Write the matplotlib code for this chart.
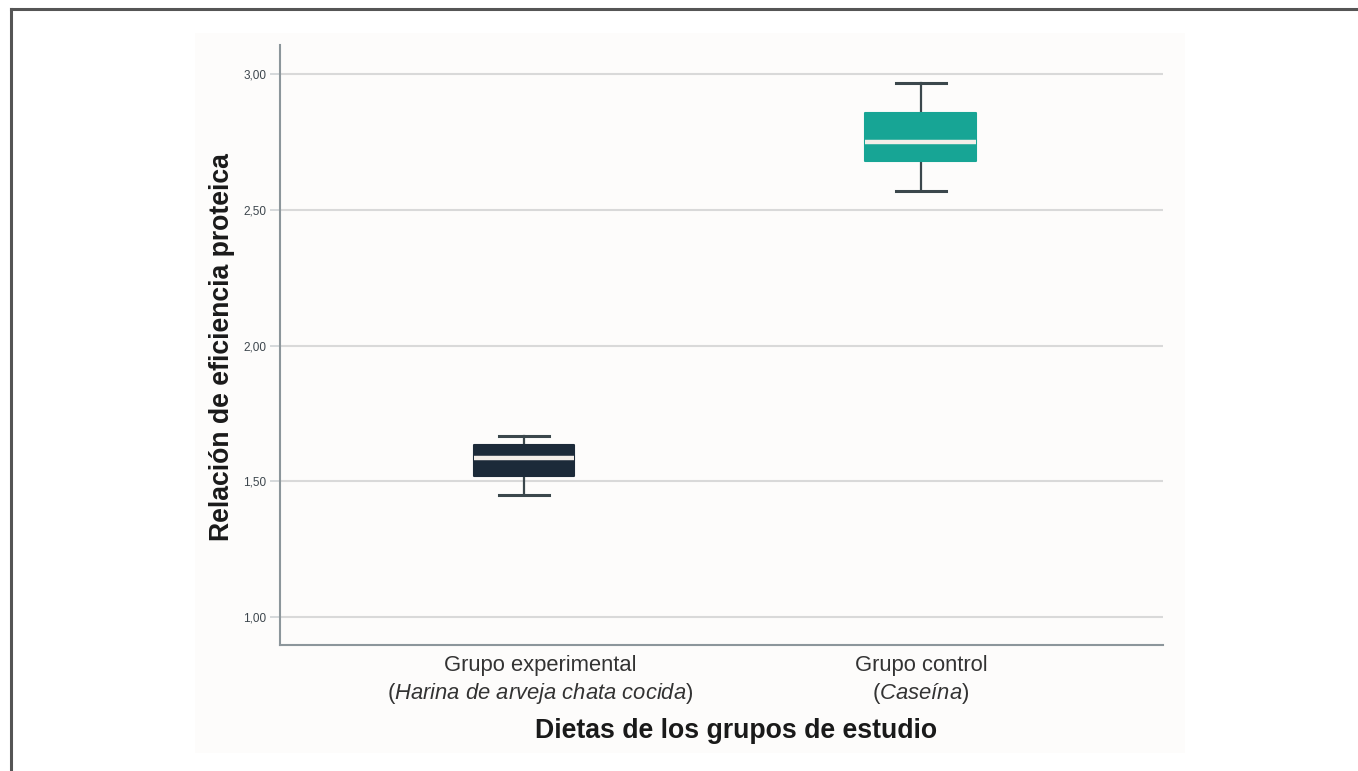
import matplotlib.pyplot as plt
from matplotlib.lines import Line2D
from matplotlib.patches import Rectangle

plt.rcParams['font.family'] = ['Liberation Sans', 'DejaVu Sans']
plt.rcParams['mathtext.fontset'] = 'custom'
plt.rcParams['mathtext.rm'] = 'Liberation Sans'
plt.rcParams['mathtext.it'] = 'Liberation Sans:italic'

# box summary per diet group
groups = ['Grupo experimental', 'Grupo control']
subtitles = [r'($\mathit{Harina\ de\ arveja\ chata\ cocida}$)', r'($\mathit{Caseína}$)']
whislo = [1.45, 2.57]
q1 = [1.52, 2.68]
med = [1.585, 2.75]
q3 = [1.635, 2.855]
whishi = [1.665, 2.967]
colors = ['#1c2a39', '#17a595']

yticks = [1.00, 1.50, 2.00, 2.50, 3.00]
yticklabels = ['1,00', '1,50', '2,00', '2,50', '3,00']

fig = plt.figure(figsize=(13.58, 7.71), dpi=100)

# light panel behind the chart
fig.patches.append(Rectangle((195 / 1358, 1 - 753 / 771), 990 / 1358, 720 / 771,
                             transform=fig.transFigure, facecolor='#fdfcfb',
                             edgecolor='none', zorder=-5))
# frame lines (left and top)
fig.add_artist(Line2D([11 / 1358, 11 / 1358], [0, 1 - 9 / 771], transform=fig.transFigure,
                      color='#555555', lw=2.2))
fig.add_artist(Line2D([11 / 1358, 1], [1 - 9 / 771, 1 - 9 / 771], transform=fig.transFigure,
                      color='#555555', lw=2.2))

ax = fig.add_axes([280 / 1358, 1 - 645 / 771, 883 / 1358, 600 / 771])
ax.set_facecolor('none')

stats = []
for i, g in enumerate(groups):
    stats.append(dict(label=g, whislo=whislo[i], q1=q1[i], med=med[i],
                      q3=q3[i], whishi=whishi[i], fliers=[]))

bp = ax.bxp(stats, positions=[1, 2], widths=[0.25, 0.28], patch_artist=True,
            showfliers=False,
            whiskerprops=dict(color='#3b474c', lw=1.6),
            capprops=dict(color='#3b474c', lw=2.2),
            medianprops=dict(color='#f3eee9', lw=3.2, solid_capstyle='butt'),
            capwidths=0.125)
for patch, c in zip(bp['boxes'], colors):
    patch.set_facecolor(c)
    patch.set_edgecolor(c)
    patch.set_linewidth(1.5)
    patch.set_joinstyle('round')
    patch.set_zorder(3)
for m in bp['medians']:
    m.set_zorder(4)

ax.set_xlim(0.385, 2.61)
ax.set_ylim(0.897, 3.107)

ax.set_yticks(yticks)
ax.set_yticklabels(yticklabels, fontsize=8.5, color='#3d464d')
ax.tick_params(axis='y', length=7, width=1.2, color='#cfd3d5', pad=3)
ax.grid(axis='y', color='#d9d9d9', lw=1.5, zorder=0)
ax.set_axisbelow(True)

# category labels (first one sits a little right of its box)
ax.set_xticks([1, 2])
ax.set_xticklabels([''] * 2)
ax.tick_params(axis='x', length=0)
label_x = [1.04, 2.0]
for x, g, s in zip(label_x, groups, subtitles):
    ax.text(x, -0.017, g, transform=ax.get_xaxis_transform(), ha='center', va='top',
            fontsize=15.8, color='#333333')
    ax.text(x, -0.06, s, transform=ax.get_xaxis_transform(), ha='center', va='top',
            fontsize=15.8, color='#333333')

for side in ['top', 'right']:
    ax.spines[side].set_visible(False)
for side in ['left', 'bottom']:
    ax.spines[side].set_color('#8c969b')
    ax.spines[side].set_linewidth(1.5)

fig.text(222 / 1358, 1 - 347 / 771, 'Relación de eficiencia proteica', rotation=90,
         ha='center', va='center', fontsize=19.2, fontweight='bold', color='#1a1a1a')
fig.text(736 / 1358, 1 - 731 / 771, 'Dietas de los grupos de estudio',
         ha='center', va='center', fontsize=19.2, fontweight='bold', color='#1a1a1a')

fig.savefig('out.png', dpi=100, facecolor='white')
